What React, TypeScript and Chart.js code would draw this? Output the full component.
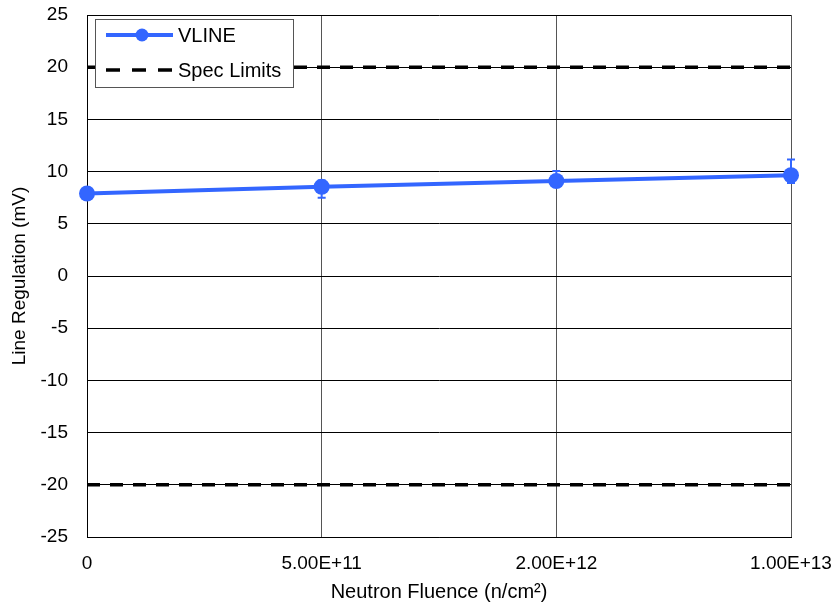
import React, { useEffect, useRef } from "react";
import { Chart, registerables } from "chart.js";

Chart.register(...registerables);

const categories = ["0", "5.00E+11", "2.00E+12", "1.00E+13"];
const vline = [7.9, 8.55, 9.1, 9.65];
const errUp = [0, 0.6, 0.95, 1.5];
const errDown = [0, 1.05, 0.5, 0.75];
const specUpper = [20, 20, 20, 20];
const specLower = [-20, -20, -20, -20];
const yTicks = [25, 20, 15, 10, 5, 0, -5, -10, -15, -20, -25];

const BLUE = "rgb(51,102,255)";
const FONT = "'Liberation Sans', Arial, sans-serif";
const DASH = [13, 10];

const errorBarPlugin = {
  id: "errorBars",
  beforeDatasetsDraw(chart: any) {
    const { ctx, scales } = chart;
    const meta = chart.getDatasetMeta(0);
    ctx.save();
    ctx.strokeStyle = BLUE;
    ctx.lineWidth = 2;
    meta.data.forEach((pt: any, i: number) => {
      const v = vline[i];
      if (!errUp[i] && !errDown[i]) return;
      const x = pt.x;
      const yTop = scales.y.getPixelForValue(v + errUp[i]);
      const yBot = scales.y.getPixelForValue(v - errDown[i]);
      ctx.beginPath();
      ctx.moveTo(x, yTop);
      ctx.lineTo(x, yBot);
      ctx.moveTo(x - 4, yTop);
      ctx.lineTo(x + 4, yTop);
      ctx.moveTo(x - 4, yBot);
      ctx.lineTo(x + 4, yBot);
      ctx.stroke();
    });
    ctx.restore();
  },
};

const legendPlugin = {
  id: "boxLegend",
  afterDraw(chart: any) {
    const { ctx, chartArea } = chart;
    const x0 = chartArea.left + 8;
    const y0 = chartArea.top + 4;
    const w = 198;
    const h = 68;
    ctx.save();
    ctx.fillStyle = "#fff";
    ctx.fillRect(x0, y0, w, h);
    ctx.strokeStyle = "#555";
    ctx.lineWidth = 1;
    ctx.strokeRect(x0 + 0.5, y0 + 0.5, w, h);
    const r1 = y0 + 16;
    ctx.strokeStyle = BLUE;
    ctx.lineWidth = 4;
    ctx.beginPath();
    ctx.moveTo(x0 + 11, r1);
    ctx.lineTo(x0 + 78, r1);
    ctx.stroke();
    ctx.fillStyle = BLUE;
    ctx.beginPath();
    ctx.arc(x0 + 47, r1, 6.5, 0, Math.PI * 2);
    ctx.fill();
    const r2 = y0 + 51;
    ctx.strokeStyle = "#000";
    ctx.lineWidth = 3.5;
    ctx.setLineDash([14, 12]);
    ctx.beginPath();
    ctx.moveTo(x0 + 11, r2);
    ctx.lineTo(x0 + 78, r2);
    ctx.stroke();
    ctx.setLineDash([]);
    ctx.fillStyle = "#000";
    ctx.font = `20px ${FONT}`;
    ctx.textBaseline = "middle";
    ctx.textAlign = "left";
    ctx.fillText("VLINE", x0 + 83, r1 + 1);
    ctx.fillText("Spec Limits", x0 + 83, r2 + 1);
    ctx.restore();
  },
};

export default function App() {
  const ref = useRef<HTMLCanvasElement>(null);
  useEffect(() => {
    if (!ref.current) return;
    const chart = new Chart(ref.current, {
      type: "line",
      data: {
        labels: categories,
        datasets: [
          {
            label: "VLINE",
            data: vline,
            borderColor: BLUE,
            backgroundColor: BLUE,
            borderWidth: 4,
            pointRadius: 8,
            pointBackgroundColor: BLUE,
            pointBorderColor: BLUE,
            pointBorderWidth: 0,
            clip: false as any,
            order: 0,
          },
          {
            label: "Spec Limits",
            data: specUpper,
            borderColor: "#000",
            borderWidth: 3.5,
            borderDash: DASH,
            pointRadius: 0,
            order: 1,
          },
          {
            label: "Spec Limits",
            data: specLower,
            borderColor: "#000",
            borderWidth: 3.5,
            borderDash: DASH,
            pointRadius: 0,
            order: 1,
          },
        ],
      },
      options: {
        animation: false,
        responsive: false,
        layout: { padding: { left: 0, top: 15, right: 47, bottom: 0 } },
        plugins: { legend: { display: false }, tooltip: { enabled: false } },
        scales: {
          x: {
            type: "category",
            offset: false,
            grid: { color: "#555", lineWidth: 1, drawTicks: false },
            border: { color: "#000", width: 1 },
            ticks: { color: "#000", font: { family: FONT, size: 19 }, padding: 15, maxRotation: 0, autoSkip: false },
            title: {
              display: true,
              text: "Neutron Fluence (n/cm²)",
              color: "#000",
              font: { family: FONT, size: 20 },
              padding: { top: 4, bottom: 6 },
            },
            afterFit(scale: any) {
              scale.height = 73;
              scale.paddingLeft = 0;
              scale.paddingRight = 0;
            },
          },
          y: {
            min: -25,
            max: 25,
            afterBuildTicks(scale: any) {
              scale.ticks = yTicks.map((v) => ({ value: v }));
            },
            grid: { color: "#000", lineWidth: 1, drawTicks: false },
            border: { color: "#000", width: 1 },
            ticks: { color: "#000", font: { family: FONT, size: 19 }, padding: 19 },
            title: {
              display: true,
              text: "Line Regulation (mV)",
              color: "#000",
              font: { family: FONT, size: 19 },
              padding: { top: 8, bottom: 4 },
            },
            afterFit(scale: any) {
              scale.width = 87;
              scale.paddingTop = 0;
              scale.paddingBottom = 0;
            },
          },
        },
      },
      plugins: [errorBarPlugin, legendPlugin],
    });
    return () => chart.destroy();
  }, []);
  return (
    <canvas
      ref={ref}
      width={838}
      height={610}
      style={{ position: "absolute", left: 0, top: 0, width: 838, height: 610 }}
    />
  );
}
